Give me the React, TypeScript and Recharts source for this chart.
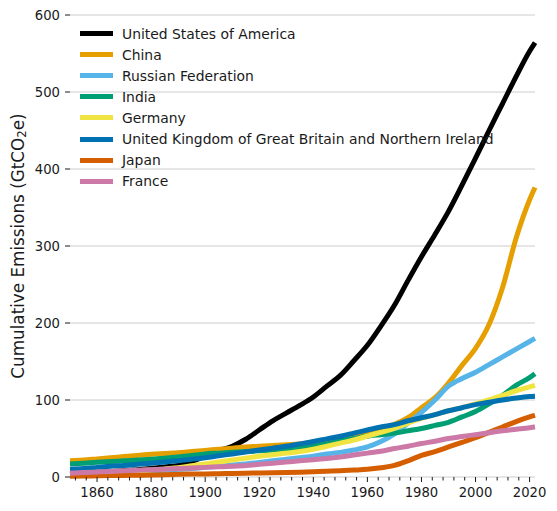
import { LineChart, Line, XAxis, YAxis, CartesianGrid } from 'recharts'

const YEARS = [
  1850, 1855, 1860, 1865, 1870, 1875, 1880, 1885, 1890, 1895, 1900, 1905, 1910, 1915, 1920, 1925, 1930, 1935,
  1940, 1945, 1950, 1955, 1960, 1965, 1970, 1975, 1980, 1985, 1990, 1995, 2000, 2005, 2010, 2015, 2020, 2022,
]

const USA = [
  4, 5, 6, 7, 8, 9.5, 11, 13, 15, 20, 27, 34, 40, 49, 61, 73, 83, 93,
  104, 118, 132, 151, 171, 196, 223, 255, 286, 315, 345, 379, 414, 450, 485, 520, 553, 564,
]
const CHINA = [
  21, 22, 23.5, 25, 26.5, 28, 29.5, 30.5, 31.5, 33, 34.5, 36, 37.5, 39, 40, 41, 42, 43,
  45, 47, 49, 53, 58, 63, 68.5, 77, 90, 103, 122, 145, 167, 198, 246, 310, 360, 376,
]
const RUSSIA = [
  3.5, 4, 4.5, 5, 5.5, 6.5, 7.5, 8.5, 10, 11, 12.5, 14, 15.5, 17, 19, 21, 23, 25,
  27, 30, 32, 35, 39, 46, 56, 70, 84, 100, 118, 128, 136, 146, 156, 166, 176, 180,
]
const INDIA = [
  17, 18, 19, 20, 21, 22, 23, 24.5, 26, 28, 30, 31, 32, 33, 34, 35, 36.5, 38,
  40, 43, 47, 50, 53, 55, 57, 60, 63, 67, 71, 78, 85, 95, 106, 119, 129, 134,
]
const GERMANY = [
  4, 4.5, 5, 6, 7, 8, 9, 10.5, 12, 14.5, 17, 19.5, 22, 24.5, 27, 29, 31, 33,
  36, 40, 44, 48, 53, 58, 63, 70, 76, 81, 86, 90, 95, 100, 106, 112, 117, 119,
]
const UK = [
  10, 11, 12.5, 14, 15, 16.5, 18, 19.5, 21, 23, 25, 27.5, 30, 32.5, 35, 37.5, 40, 43,
  46, 49.5, 53, 57, 61, 65, 68, 73, 77, 81, 86, 90, 94, 97, 100, 102.5, 104.5, 105,
]
const JAPAN = [
  1, 1.2, 1.5, 1.8, 2, 2.3, 2.6, 3, 3.5, 3.8, 4, 4.3, 4.6, 4.9, 5.2, 5.5, 5.8, 6.2,
  6.8, 7.5, 8.2, 9, 10, 12, 15, 21, 28, 33, 39, 45, 51, 58, 65, 72, 78, 80,
]
const FRANCE = [
  5, 5.8, 6.5, 7.2, 8, 8.8, 9.5, 10.2, 11, 11.7, 12.5, 13.2, 14, 15, 16.5, 18, 19.5, 21,
  22.5, 24, 26, 28.5, 31, 33.5, 37, 40, 43.5, 46.5, 50, 52.5, 55, 57.5, 60, 62, 64, 65,
]

const SERIES = [
  { key: 'usa', name: 'United States of America', values: USA, color: '#000000' },
  { key: 'china', name: 'China', values: CHINA, color: '#E69F00' },
  { key: 'russia', name: 'Russian Federation', values: RUSSIA, color: '#56B4E9' },
  { key: 'india', name: 'India', values: INDIA, color: '#009E73' },
  { key: 'germany', name: 'Germany', values: GERMANY, color: '#F0E442' },
  { key: 'uk', name: 'United Kingdom of Great Britain and Northern Ireland', values: UK, color: '#0072B2' },
  { key: 'japan', name: 'Japan', values: JAPAN, color: '#D55E00' },
  { key: 'france', name: 'France', values: FRANCE, color: '#CC79A7' },
]

const Y_TICKS = [0, 100, 200, 300, 400, 500, 600]
const X_LABELS = [1860, 1880, 1900, 1920, 1940, 1960, 1980, 2000, 2020]
const X_TICKS = [
  1852, 1856, 1860, 1864, 1868, 1872, 1876, 1880, 1884, 1888, 1892, 1896, 1900, 1904, 1908,
  1912, 1916, 1920, 1924, 1928, 1932, 1936, 1940, 1944, 1948, 1952, 1956, 1960, 1964, 1968,
  1972, 1976, 1980, 1984, 1988, 1992, 1996, 2000, 2004, 2008, 2012, 2016, 2020,
]

const FONT = '"DejaVu Sans", sans-serif'
const TEXT = '#1a1a1a'

const data = YEARS.map((year, i) => {
  const row: Record<string, number> = { year }
  SERIES.forEach((s) => {
    row[s.key] = s.values[i]
  })
  return row
})

function XTick({ x, y, payload }: any) {
  const major = X_LABELS.includes(payload.value)
  return (
    <g>
      <line x1={x} x2={x} y1={y} y2={y + (major ? 5 : 3.5)} stroke={TEXT} strokeWidth={1} />
      {major && (
        <text x={x} y={y + 15.5} textAnchor="middle" dominantBaseline="central" fontSize={13.2} fontFamily={FONT} fill={TEXT}>
          {payload.value}
        </text>
      )}
    </g>
  )
}

function YTick({ x, y, payload }: any) {
  return (
    <g>
      <line x1={x - 5} x2={x} y1={y} y2={y} stroke={TEXT} strokeWidth={1} />
      <text x={x - 10} y={y} textAnchor="end" dominantBaseline="central" fontSize={13.2} fontFamily={FONT} fill={TEXT}>
        {payload.value}
      </text>
    </g>
  )
}

// the label is centred on the plot's vertical middle
function YLabel() {
  const cx = 18
  const cy = 246
  return (
    <text
      x={cx}
      y={cy}
      transform={`rotate(-90 ${cx} ${cy})`}
      textAnchor="middle"
      dominantBaseline="central"
      fontSize={16.8}
      fontFamily={FONT}
      fill={TEXT}
    >
      <tspan>Cumulative Emissions (GtCO</tspan>
      <tspan dy={3.5} fontSize={11.8}>2</tspan>
      <tspan dy={-3.5}>e)</tspan>
    </text>
  )
}

function LegendBox() {
  return (
    <div style={{ position: 'absolute', left: 80, top: 23, fontFamily: FONT, fontSize: 13.9, color: TEXT }}>
      {SERIES.map((s) => (
        <div key={s.key} style={{ display: 'flex', alignItems: 'center', height: 21.1, whiteSpace: 'nowrap' }}>
          <span style={{ display: 'inline-block', width: 33, height: 5, background: s.color, marginRight: 9 }} />
          <span>{s.name}</span>
        </div>
      ))}
    </div>
  )
}

export default function App() {
  return (
    <div style={{ position: 'absolute', left: 0, top: 0, width: 557, height: 511, background: '#fff' }}>
      <LineChart width={557} height={511} data={data} margin={{ top: 15, right: 22, left: 0, bottom: 0 }}>
        <CartesianGrid vertical={false} stroke="#cccccc" strokeWidth={1} />
        <XAxis
          dataKey="year"
          type="number"
          domain={[1850, 2022]}
          ticks={X_TICKS}
          interval={0}
          axisLine={false}
          tickLine={false}
          tickSize={0}
          tickMargin={0}
          height={34}
          tick={<XTick />}
        />
        <YAxis
          type="number"
          domain={[0, 600]}
          ticks={Y_TICKS}
          interval={0}
          axisLine={false}
          tickLine={false}
          tickSize={0}
          tickMargin={0}
          width={70}
          tick={<YTick />}
          label={{ content: <YLabel /> }}
        />
        {SERIES.map((s) => (
          <Line
            key={s.key}
            dataKey={s.key}
            name={s.name}
            type="monotone"
            stroke={s.color}
            strokeWidth={5}
            dot={false}
            activeDot={false}
            isAnimationActive={false}
          />
        ))}
      </LineChart>
      <LegendBox />
    </div>
  )
}
